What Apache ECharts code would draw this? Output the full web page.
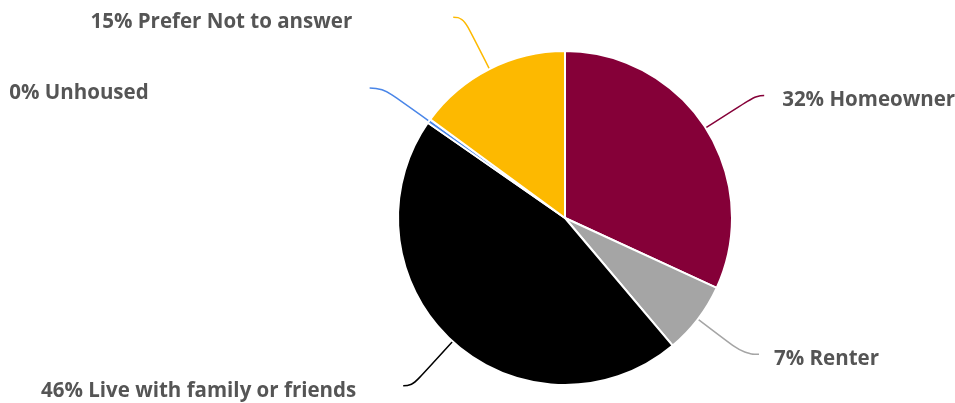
<!DOCTYPE html>
<html>
<head>
<meta charset="utf-8">
<script src="https://cdn.jsdelivr.net/npm/echarts@6/dist/echarts.min.js"></script>
<style>html,body{margin:0;padding:0;background:#fff;}#chart{width:955px;height:403px;}</style>
</head>
<body>
<div id="chart"></div>
<script>
var categories = ['Homeowner', 'Renter', 'Live with family or friends', 'Unhoused', 'Prefer Not to answer'];
var values = [32, 7, 46, 0.4, 15];
var colors = ['#850038', '#A5A5A5', '#000000', '#4A86E8', '#FDB900'];

// label line geometry per slice (styling only)
var lineLen = [60, 58, 60, 57, 58];
var lineLen2 = [8, 15, 9, 13, 10];
var labelGap = [18, 15, 47, 221, 101];

var chart = echarts.init(document.getElementById('chart'), null, {renderer: 'canvas'});
var data = categories.map(function (c, i) {
  return {
    name: c,
    value: values[i],
    itemStyle: {color: colors[i]},
    label: {distanceToLabelLine: labelGap[i]},
    labelLine: {length: lineLen[i], length2: lineLen2[i], lineStyle: {color: colors[i]}}
  };
});
chart.setOption({
  animation: false,
  series: [{
    type: 'pie',
    center: [565, 218],
    radius: 167,
    startAngle: 90,
    clockwise: true,
    avoidLabelOverlap: false,
    percentPrecision: 0,
    itemStyle: {borderColor: '#fff', borderWidth: 2},
    label: {
      show: true,
      position: 'outside',
      alignTo: 'none',
      bleedMargin: 0,
      formatter: '{d}% {b}',
      fontFamily: 'Open Sans',
      fontWeight: 'bold',
      fontSize: 20.5,
      color: '#555555'
    },
    labelLayout: {dy: 5},
    labelLine: {show: true, smooth: 0.5, lineStyle: {width: 1.5}},
    data: data
  }]
});
</script>
</body>
</html>
